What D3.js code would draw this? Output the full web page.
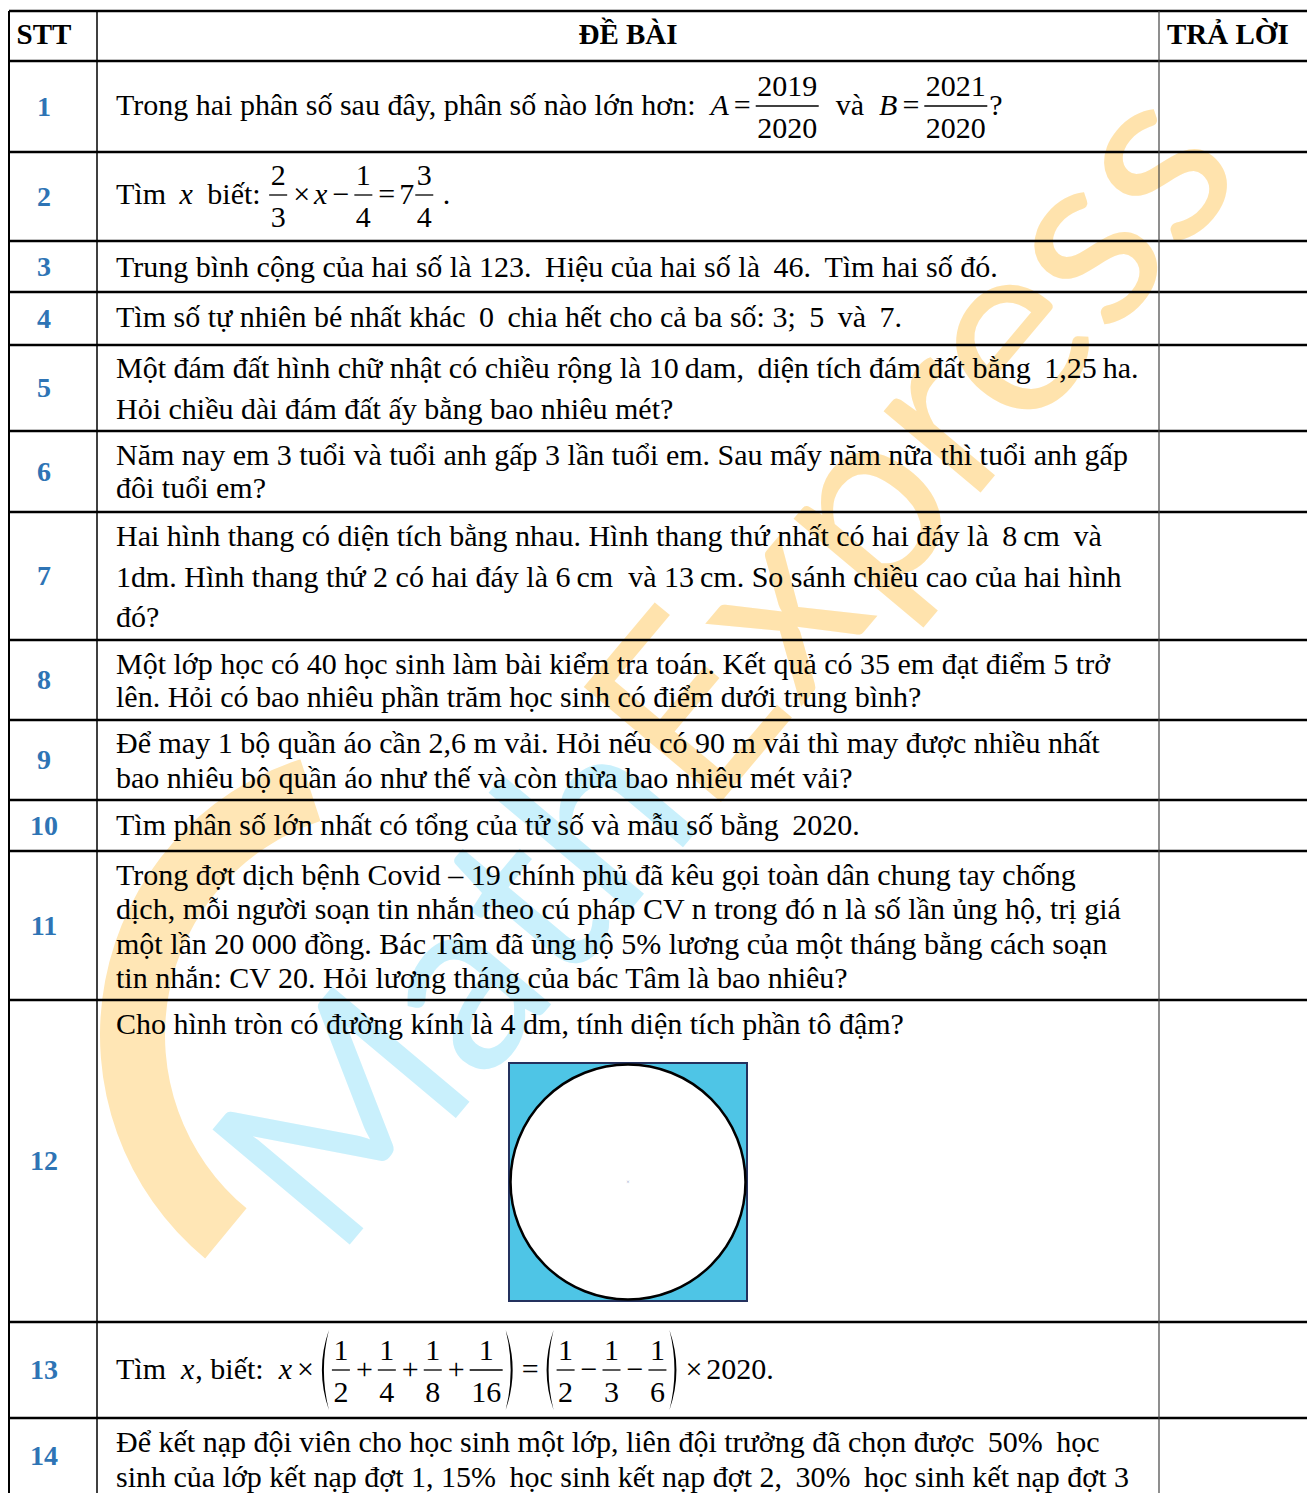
<!DOCTYPE html>
<html>
<head>
<meta charset="utf-8">
<script src="https://cdn.jsdelivr.net/npm/d3@7"></script>
<style>
  body { margin: 0; background: #fff; }
  svg text { font-family: "Liberation Serif", "Times New Roman", serif; white-space: pre; }
</style>
</head>
<body>
<script>
// ---- content ----
const headers = ["STT", "ĐỀ BÀI", "TRẢ LỜI"];
const sttLabels = ["1", "2", "3", "4", "5", "6", "7", "8", "9", "10", "11", "12", "13", "14"];

// a line is a list of tokens: plain string, {i: italic}, {o: operator}, {f: [num, den]}, {p: "(" or ")"}
const questions = [
    [["Trong hai phân số sau đây, phân số nào lớn hơn:  ", {i: "A"}, {o: "="}, {f: ["2019", "2020"]}, "  và  ", {i: "B"}, {o: "="}, {f: ["2021", "2020"]}, "?"]],
    [["Tìm \u2009", {i: "x"}, " \u2009biết: ", {f: ["2", "3"]}, {o: "×"}, {i: "x"}, {o: "−"}, {f: ["1", "4"]}, {o: "="}, "7", {f: ["3", "4"]}, " ."]],
    [["Trung bình cộng của hai số là 123. \u2009Hiệu của hai số là \u200946. \u2009Tìm hai số đó."]],
    [["Tìm số tự nhiên bé nhất khác \u20090 \u2009chia hết cho cả ba số: 3; \u20095 \u2009và \u20097."]],
    [["Một đám đất hình chữ nhật có chiều rộng là 10\u2009dam, \u2009diện tích đám đất bằng \u20091,25\u2009ha."],
     ["Hỏi chiều dài đám đất ấy bằng bao nhiêu mét?"]],
    [["Năm nay em 3 tuổi và tuổi anh gấp 3 lần tuổi em. Sau mấy năm nữa thì tuổi anh gấp"],
     ["đôi tuổi em?"]],
    [["Hai hình thang có diện tích bằng nhau. Hình thang thứ nhất có hai đáy là \u20098\u2009cm \u2009và"],
     ["1dm. Hình thang thứ 2 có hai đáy là 6\u2009cm  và 13\u2009cm. So sánh chiều cao của hai hình"],
     ["đó?"]],
    [["Một lớp học có 40 học sinh làm bài kiểm tra toán. Kết quả có 35 em đạt điểm 5 trở"],
     ["lên. Hỏi có bao nhiêu phần trăm học sinh có điểm dưới trung bình?"]],
    [["Để may 1 bộ quần áo cần 2,6 m vải. Hỏi nếu có 90 m vải thì may được nhiều nhất"],
     ["bao nhiêu bộ quần áo như thế và còn thừa bao nhiêu mét vải?"]],
    [["Tìm phân số lớn nhất có tổng của tử số và mẫu số bằng \u20092020."]],
    [["Trong đợt dịch bệnh Covid – 19 chính phủ đã kêu gọi toàn dân chung tay chống"],
     ["dịch, mỗi người soạn tin nhắn theo cú pháp CV n trong đó n là số lần ủng hộ, trị giá"],
     ["một lần 20 000 đồng. Bác Tâm đã ủng hộ 5% lương của một tháng bằng cách soạn"],
     ["tin nhắn: CV 20. Hỏi lương tháng của bác Tâm là bao nhiêu?"]],
    [["Cho hình tròn có đường kính là 4 dm, tính diện tích phần tô đậm?"]],
    [["Tìm  ", {i: "x"}, ", biết:  ", {i: "x"}, {o: "×"}, {p: "("}, {f: ["1", "2"]}, {o: "+"}, {f: ["1", "4"]}, {o: "+"}, {f: ["1", "8"]}, {o: "+"}, {f: ["1", "16"]}, {p: ")"},
      {o: "="}, {p: "("}, {f: ["1", "2"]}, {o: "−"}, {f: ["1", "3"]}, {o: "−"}, {f: ["1", "6"]}, {p: ")"}, {o: "×"}, "2020."]],
    [["Để kết nạp đội viên cho học sinh một lớp, liên đội trưởng đã chọn được \u200950% \u2009học"],
     ["sinh của lớp kết nạp đợt 1, 15% \u2009học sinh kết nạp đợt 2, \u200930% \u2009học sinh kết nạp đợt 3"]]
];

// figure of question 12: a circle inscribed in a square
const circleDiameterDm = 4;

const watermarkParts = ["Math", "Express"];

// ---- layout ----
const width = 1307, height = 1493;
const colEdges = [9, 97, 1159, 1320];
const rowEdges = [11, 61, 152, 241, 292, 345, 431, 512, 640, 720, 800, 851, 1000, 1322, 1418, 1540];
const firstBaseline = [115, 204, 277, 327, 378, 465, 546, 674, 753, 835, 885, 1034, 1379, 1452];
const lineStep = [0, 0, 0, 0, 41, 33, 40.5, 33, 35, 0, 34.3, 0, 0, 35];
const FS = 30;
const OP_PAD = 4;

const svg = d3.select("body").append("svg")
    .attr("width", width)
    .attr("height", height);

// watermark sits behind everything
const wm = svg.append("g");
wm.append("path")
    .attr("transform", "translate(390,1035)")
    .attr("d", d3.arc()({innerRadius: 225, outerRadius: 290, startAngle: Math.PI * 1.22, endAngle: Math.PI * 1.9}))
    .attr("fill", "#ffe6b5");
wm.append("text")
    .attr("transform", "translate(335,1262) rotate(-50)")
    .style("font-family", "Lato, 'Open Sans', sans-serif")
    .style("font-size", "250px")
    .selectAll("tspan")
    .data(watermarkParts)
    .join("tspan")
    .attr("fill", (d, i) => i === 0 ? "#c9f0fc" : "#ffe3ad")
    .text(d => d);

// header
const body = svg.append("g");
const headerBase = 44;
body.append("text").attr("x", 44).attr("y", headerBase).attr("text-anchor", "middle")
    .style("font-weight", "bold").style("font-size", "29px").text(headers[0]);
body.append("text").attr("x", (colEdges[1] + colEdges[2]) / 2).attr("y", headerBase).attr("text-anchor", "middle")
    .style("font-weight", "bold").style("font-size", "29px").text(headers[1]);
body.append("text").attr("x", 1167).attr("y", headerBase)
    .style("font-weight", "bold").style("font-size", "29px").text(headers[2]);

// row numbers
body.selectAll("text.stt")
    .data(sttLabels)
    .join("text")
    .attr("class", "stt")
    .attr("x", 44)
    .attr("y", (d, i) => i === 13 ? 1465 : (rowEdges[i + 1] + rowEdges[i + 2]) / 2 + 9)
    .attr("text-anchor", "middle")
    .attr("fill", "#2e74b5")
    .style("font-weight", "bold")
    .style("font-size", "28px")
    .text(d => d);

// draws one line of tokens, advancing x with measured widths
const drawLine = (g, tokens, x, y) => {
    const put = (str, px, py, italic) => {
        const t = g.append("text").attr("x", px).attr("y", py).style("font-size", FS + "px").text(str);
        if (italic) t.style("font-style", "italic");
        return t;
    };
    tokens.forEach((tok) => {
        if (typeof tok === "string") {
            x += put(tok, x, y).node().getComputedTextLength();
        } else if (tok.i) {
            x += put(tok.i, x, y, true).node().getComputedTextLength() + 1;
        } else if (tok.o) {
            x += OP_PAD;
            x += put(tok.o, x, y).node().getComputedTextLength() + OP_PAD;
        } else if (tok.f) {
            const tn = put(tok.f[0], 0, y - 19).attr("text-anchor", "middle");
            const td = put(tok.f[1], 0, y + 23).attr("text-anchor", "middle");
            const w = Math.max(tn.node().getComputedTextLength(), td.node().getComputedTextLength()) + 5;
            tn.attr("x", x + w / 2);
            td.attr("x", x + w / 2);
            g.append("line")
                .attr("x1", x + 1).attr("x2", x + w - 1)
                .attr("y1", y - 9).attr("y2", y - 9)
                .attr("stroke", "#000").attr("stroke-width", 1.3);
            x += w + 1;
        } else if (tok.p) {
            const y0 = y - 49, y1 = y + 31, m = (y0 + y1) / 2;
            const d = tok.p === "("
                ? `M ${x + 11} ${y0} Q ${x - 3} ${m} ${x + 11} ${y1} Q ${x + 1} ${m} ${x + 11} ${y0} Z`
                : `M ${x + 1} ${y0} Q ${x + 15} ${m} ${x + 1} ${y1} Q ${x + 11} ${m} ${x + 1} ${y0} Z`;
            g.append("path").attr("d", d).attr("fill", "#000");
            x += 13;
        }
    });
};

questions.forEach((lines, qi) => {
    lines.forEach((tokens, li) => {
        drawLine(body, tokens, 116, firstBaseline[qi] + li * lineStep[qi]);
    });
});

// figure for question 12
const dm = d3.scaleLinear().domain([0, circleDiameterDm]).range([0, 238]);
const fig = svg.append("g").attr("transform", "translate(509,1063)");
fig.append("rect")
    .attr("width", dm(circleDiameterDm)).attr("height", dm(circleDiameterDm))
    .attr("fill", "#4ec5e6").attr("stroke", "#24315e").attr("stroke-width", 2);
fig.append("circle")
    .attr("cx", dm(circleDiameterDm / 2)).attr("cy", dm(circleDiameterDm / 2))
    .attr("r", dm(circleDiameterDm / 2) - 1.5)
    .attr("fill", "#fff").attr("stroke", "#000").attr("stroke-width", 2.5);
fig.append("text")
    .attr("x", dm(circleDiameterDm / 2)).attr("y", dm(circleDiameterDm / 2) + 2)
    .attr("text-anchor", "middle").attr("fill", "#8090c0")
    .style("font-size", "6px").text("×");

// grid lines
const grid = svg.append("g");
grid.selectAll("line.h")
    .data(rowEdges.slice(0, -1))
    .join("line")
    .attr("x1", colEdges[0]).attr("x2", width)
    .attr("y1", d => d).attr("y2", d => d)
    .attr("stroke", "#000").attr("stroke-width", 2.6);
grid.append("line").attr("x1", colEdges[0]).attr("x2", colEdges[0]).attr("y1", rowEdges[0]).attr("y2", height)
    .attr("stroke", "#000").attr("stroke-width", 2);
grid.append("line").attr("x1", colEdges[1]).attr("x2", colEdges[1]).attr("y1", rowEdges[0]).attr("y2", height)
    .attr("stroke", "#000").attr("stroke-width", 1.5);
grid.append("line").attr("x1", colEdges[2]).attr("x2", colEdges[2]).attr("y1", rowEdges[0]).attr("y2", height)
    .attr("stroke", "#444").attr("stroke-width", 1.2);
</script>
</body>
</html>
